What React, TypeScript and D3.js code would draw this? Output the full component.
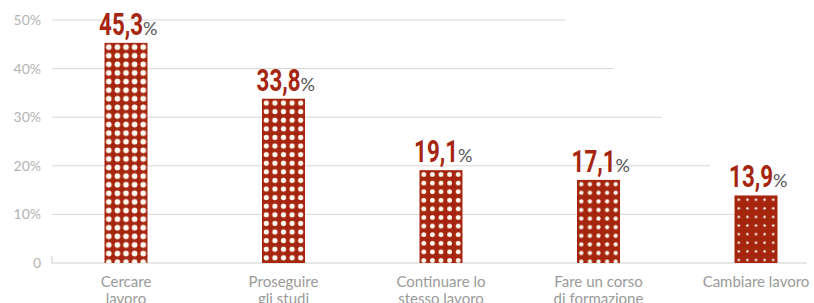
import React from 'react';
import * as d3 from 'd3';

// Survey answers (percent)
const categories = [
  ['Cercare', 'lavoro'],
  ['Proseguire', 'gli studi'],
  ['Continuare lo', 'stesso lavoro'],
  ['Fare un corso', 'di formazione'],
  ['Cambiare lavoro'],
];
const values = [45.3, 33.8, 19.1, 17.1, 13.9];
const valueLabels = ['45,3', '33,8', '19,1', '17,1', '13,9'];
const yTicks = [0, 10, 20, 30, 40, 50];
const yTickLabels = ['0', '10%', '20%', '30%', '40%', '50%'];
const dotRadius = [2.8, 2.6, 2.4, 2.1, 1.3];

const W = 814;
const H = 303;
const RED = '#a5250e';

const App = () => {
  const x = d3.scalePoint<number>().domain(d3.range(values.length)).range([126, 756]);
  const y = d3.scaleLinear().domain([0, 50]).range([263, 20]);
  const barW = 43;
  const cell = barW / 5;
  const gridLeft = 52;

  return (
    <svg width={W} height={H} style={{ position: 'absolute', left: 0, top: 0, background: '#fff' }}>
      <defs>
        {values.map((v, i) => (
          <pattern
            key={i}
            id={`dots-${i}`}
            patternUnits="userSpaceOnUse"
            width={cell}
            height={cell}
            x={(x(i) as number) - barW / 2}
            y={y(v)}
          >
            <rect width={cell} height={cell} fill={RED} />
            <circle cx={cell / 2} cy={cell / 2} r={dotRadius[i]} fill="#fffaf0" />
          </pattern>
        ))}
      </defs>

      {/* grid - staggered right ends */}
      <g>
        {yTicks.map((t, k) => (
          <line
            key={t}
            x1={gridLeft}
            x2={807 - k * 48.4}
            y1={y(t)}
            y2={y(t)}
            stroke={t === 0 ? '#cfcfcf' : '#d9d6cf'}
            strokeWidth={1}
          />
        ))}
        <line x1={gridLeft} x2={gridLeft} y1={y(0) - 7} y2={y(0)} stroke="#cfcfcf" />
      </g>

      {/* y tick labels */}
      <g fontFamily="Lato, 'Open Sans', sans-serif" fontSize={14} fill="#b3b3b3" textAnchor="end">
        {yTicks.map((t, k) => (
          <text key={t} x={41} y={y(t) + 5}>
            {yTickLabels[k]}
          </text>
        ))}
      </g>

      {/* bars */}
      <g>
        {values.map((v, i) => (
          <rect
            key={i}
            x={(x(i) as number) - barW / 2}
            y={y(v)}
            width={barW}
            height={y(0) - y(v)}
            fill={`url(#dots-${i})`}
          />
        ))}
      </g>

      {/* value labels: condensed bold number + small % */}
      <g>
        {values.map((v, i) => {
          const cx = x(i) as number;
          const by = y(v) - 8;
          return (
            <g key={i}>
              <text
                transform={`translate(${cx + 17},${by}) scale(0.72,1)`}
                textAnchor="end"
                fontFamily="Roboto, 'DejaVu Sans', sans-serif"
                fontWeight="bold"
                fontSize={31}
                fill={RED}
              >
                {valueLabels[i]}
              </text>
              <text x={cx + 17} y={by} fontFamily="Lato, 'Open Sans', sans-serif" fontSize={18} fill="#555">
                %
              </text>
            </g>
          );
        })}
      </g>

      {/* category labels */}
      <g fontFamily="Lato, 'Open Sans', sans-serif" fontSize={15} fill="#9a9a9a" textAnchor="middle">
        {categories.map((c, i) => (
          <text key={i} x={x(i) as number} y={287}>
            {c.map((line, j) => (
              <tspan key={j} x={x(i) as number} dy={j === 0 ? 0 : 17}>
                {line}
              </tspan>
            ))}
          </text>
        ))}
      </g>
    </svg>
  );
};

export default App;
